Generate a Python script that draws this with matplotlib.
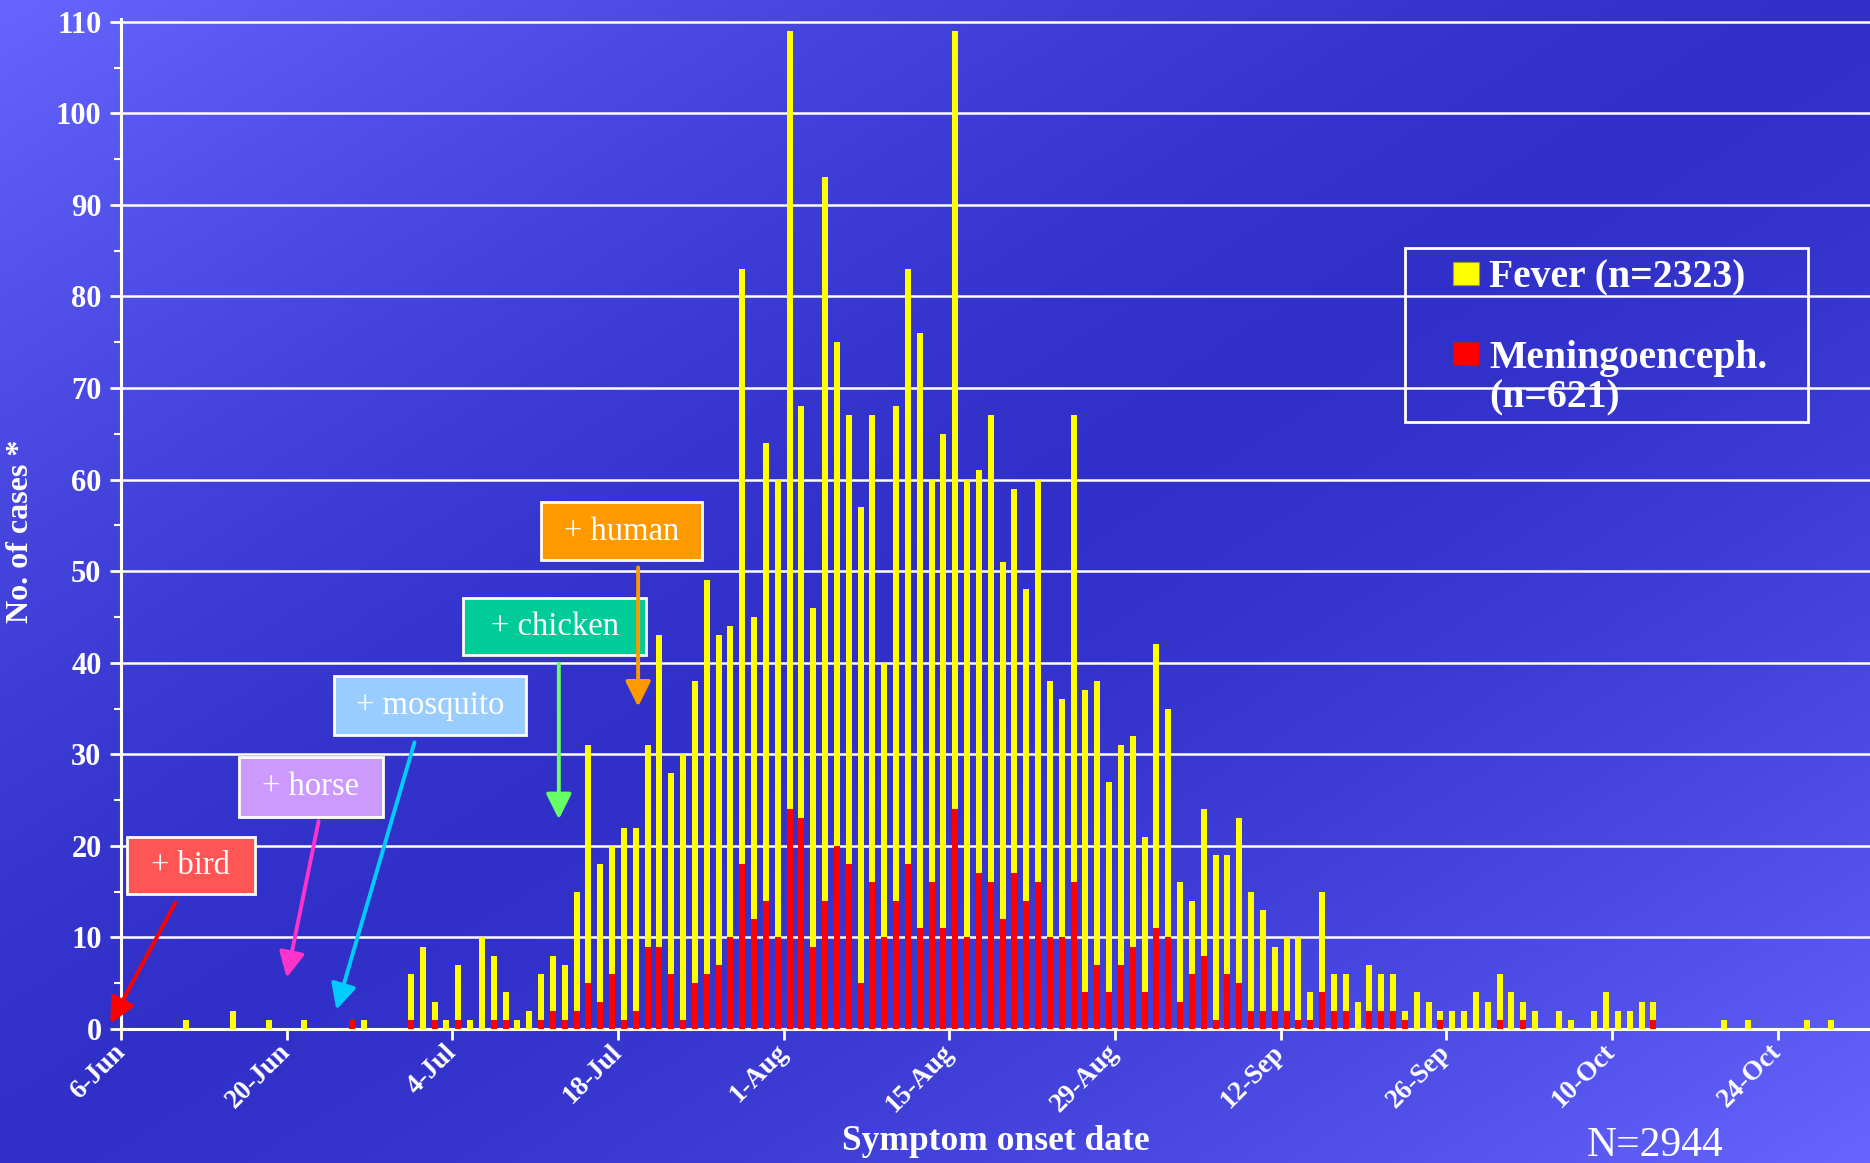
import numpy as np
import matplotlib
matplotlib.use('Agg')
import matplotlib.pyplot as plt
from matplotlib.patches import Rectangle

# daily case counts by symptom onset, first value = 6-Jun
fever_jun = [0, 0, 0, 0, 0, 1, 0, 0, 0, 2, 0, 0, 1, 0, 0, 1, 0, 0, 0, 0, 1, 0, 0, 0, 5]
mening_jun = [0, 0, 0, 0, 0, 0, 0, 0, 0, 0, 0, 0, 0, 0, 0, 0, 0, 0, 0, 1, 0, 0, 0, 0, 1]

fever_jul = [9, 2, 1, 6, 1, 10, 7, 3, 1, 2, 5, 6, 6, 13, 26, 15, 14, 21, 20, 22,
             34, 22, 29, 33, 43, 36, 34, 65, 33, 50, 50]
mening_jul = [0, 1, 0, 1, 0, 0, 1, 1, 0, 0, 1, 2, 1, 2, 5, 3, 6, 1, 2, 9,
              9, 6, 1, 5, 6, 7, 10, 18, 12, 14, 10]

fever_aug = [85, 45, 37, 79, 55, 49, 52, 51, 30, 54, 65, 65, 44, 54, 85, 50, 44, 51, 39, 42,
             34, 44, 28, 26, 51, 33, 31, 23, 24, 23, 17]
mening_aug = [24, 23, 9, 14, 20, 18, 5, 16, 10, 14, 18, 11, 16, 11, 24, 10, 17, 16, 12, 17,
              14, 16, 10, 10, 16, 4, 7, 4, 7, 9, 4]

fever_sep = [31, 25, 13, 8, 16, 18, 13, 18, 13, 11, 7, 8, 9, 3, 11, 4, 4, 3, 5, 4,
             4, 1, 4, 3, 1, 2, 2, 4, 3, 5]
mening_sep = [11, 10, 3, 6, 8, 1, 6, 5, 2, 2, 2, 2, 1, 1, 4, 2, 2, 0, 2, 2,
              2, 1, 0, 0, 1, 0, 0, 0, 0, 1]

fever_oct = [4, 2, 2, 0, 2, 1, 0, 2, 4, 2, 2, 3, 2, 0, 0, 0, 0, 0, 1, 0,
             1, 0, 0, 0, 0, 1, 0, 1]
mening_oct = [0, 1, 0, 0, 0, 0, 0, 0, 0, 0, 0, 0, 1, 0, 0, 0, 0, 0, 0, 0,
              0, 0, 0, 0, 0, 0, 0, 0]

tick_labels = ['6-Jun', '20-Jun', '4-Jul', '18-Jul', '1-Aug', '15-Aug', '29-Aug',
               '12-Sep', '26-Sep', '10-Oct', '24-Oct']

fever = np.array(fever_jun + fever_jul + fever_aug + fever_sep + fever_oct)
mening = np.array(mening_jun + mening_jul + mening_aug + mening_sep + mening_oct)
days = np.arange(len(fever))

W, H = 1870, 1163
SERIF = 'Liberation Serif'

def fx(x):
    return x / W

def fy(y):
    return 1 - y / H

fig = plt.figure(figsize=(W / 100, H / 100), dpi=100)

# diagonal blue gradient behind everything
bg = fig.add_axes([0, 0, 1, 1])
uu, vv = np.meshgrid(np.linspace(0, 1, 500), np.linspace(0, 1, 320))
t = np.abs(uu + vv - 1) ** 1.5
light = np.array([0.40, 0.40, 1.0])
dark = np.array([0.19, 0.19, 0.79])
bg.imshow(dark + (light - dark) * t[..., None], aspect='auto', extent=[0, 1, 0, 1])
bg.axis('off')

ax = fig.add_axes([fx(121), fy(1029), (W - 121) / W, (1029 - 19) / H])
ax.set_facecolor('none')

ax.bar(days + 0.5, mening, 0.5, color='#FF0000', zorder=3)
ax.bar(days + 0.5, fever, 0.5, bottom=mening, color='#FFFF00', zorder=3)

ax.set_xlim(0, 147.8)
ax.set_ylim(0, 110.3)
ax.set_yticks(range(0, 111, 10))
ax.set_yticks(range(5, 110, 10), minor=True)
ax.set_xticks(range(0, 14 * len(tick_labels), 14))
ax.set_xticklabels(tick_labels, rotation=45, ha='right', va='center', rotation_mode='anchor')

ax.yaxis.grid(True, color='white', lw=1.8, zorder=0)
ax.set_axisbelow(True)
for s in ['top', 'right']:
    ax.spines[s].set_visible(False)
for s in ['left', 'bottom']:
    ax.spines[s].set_color('white')
    ax.spines[s].set_linewidth(2.2)

ax.tick_params(axis='both', which='major', colors='white', length=8, width=2, direction='out')
ax.tick_params(axis='y', which='minor', colors='white', length=5, width=1.5, direction='out')
ax.tick_params(axis='y', pad=6)
ax.tick_params(axis='x', pad=6)
for lab in ax.get_yticklabels():
    lab.set_fontfamily(SERIF)
    lab.set_fontweight('bold')
    lab.set_fontsize(22)
for lab in ax.get_xticklabels():
    lab.set_fontfamily(SERIF)
    lab.set_fontweight('bold')
    lab.set_fontsize(19.5)

fig.text(fx(21), fy(531), 'No. of cases *', family=SERIF, weight='bold', fontsize=23,
         color='white', rotation=90, ha='center', va='center')
fig.text(fx(996), fy(1142), 'Symptom onset date', family=SERIF, weight='bold', fontsize=25.5,
         color='white', ha='center', va='center')
fig.text(fx(1655), fy(1146), 'N=2944', family=SERIF, fontsize=30, color='white',
         ha='center', va='center')

# positive-finding annotations: label, box colour, arrow colour, box (x, y, w, h), arrow tail, arrow tip
notes = [
    ('+ bird', '#FF5555', '#FF0000', (0.5, 14.7, 10.8, 6.3), (4.6, 13.8), (-0.9, 0.6)),
    ('+ horse', '#CC99FF', '#FF33CC', (10.0, 23.2, 12.1, 6.5), (16.7, 22.7), (14.0, 5.6)),
    ('+ mosquito', '#99CCFF', '#00CCFF', (18.0, 32.1, 16.2, 6.5), (24.8, 31.3), (18.2, 2.1)),
    ('+ chicken', '#00CC99', '#66FF66', (28.9, 40.8, 15.5, 6.3), (37.0, 39.9), (37.0, 22.9)),
    ('+ human', '#FF9900', '#FF9900', (35.5, 51.2, 13.6, 6.3), (43.7, 50.4), (43.7, 35.2)),
]
for label, fc, ac, (bx, by, bw, bh), tail, tip in notes:
    ax.add_patch(Rectangle((bx, by), bw, bh, fc=fc, ec='#FFFFF0', lw=2, zorder=5, clip_on=False))
    ax.text(bx + bw / 2, by + bh / 2, label, family=SERIF, fontsize=23.5, color='white',
            ha='center', va='center', zorder=6)
    ax.annotate('', xy=tip, xytext=tail, annotation_clip=False, zorder=6,
                arrowprops=dict(arrowstyle='-|>,head_length=0.7,head_width=0.35', color=ac,
                                lw=2.8, mutation_scale=22, shrinkA=0, shrinkB=0))

# legend drawn by hand to match the boxed two-line layout
fig.patches.append(Rectangle((fx(1405), fy(422)), (1808 - 1405) / W, (422 - 248) / H,
                             transform=fig.transFigure, fill=False, ec='white', lw=2))
fig.patches.append(Rectangle((fx(1453), fy(285)), 26 / W, 23 / H, transform=fig.transFigure,
                             fc='#FFFF00', ec='#A0A020', lw=0.8))
fig.patches.append(Rectangle((fx(1453), fy(365)), 26 / W, 23 / H, transform=fig.transFigure,
                             fc='#FF0000', ec='#A02020', lw=0.8))
fig.text(fx(1489), fy(287), 'Fever (n=2323)', family=SERIF, weight='bold', fontsize=28.5,
         color='white', va='baseline')
fig.text(fx(1489), fy(368), 'Meningoenceph.', family=SERIF, weight='bold', fontsize=28.5,
         color='white', va='baseline')
fig.text(fx(1489), fy(407), '(n=621)', family=SERIF, weight='bold', fontsize=28.5,
         color='white', va='baseline')

fig.savefig('out.png', dpi=100)
